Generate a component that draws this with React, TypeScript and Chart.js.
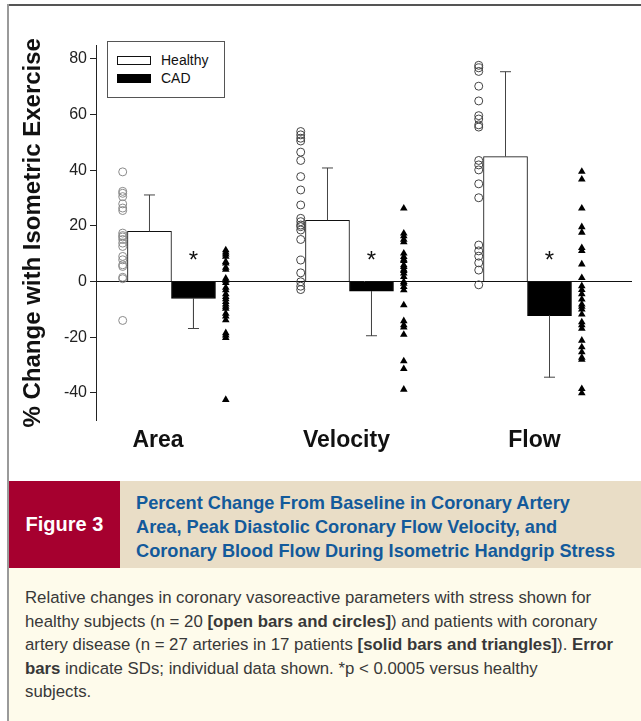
import React, { useEffect, useRef } from 'react';
import { Chart, registerables } from 'chart.js';

Chart.register(...registerables);

// ---------------- data ----------------
const CATEGORIES = ['Area', 'Velocity', 'Flow'];
const CATEGORY_LABEL_SHIFT = [-0.076, -0.017, 0.039];
const Y_TICKS = [-40, -20, 0, 20, 40, 60, 80];
const Y_MIN = -50;
const Y_MAX = 85;
const X_MIN = -0.424;
const X_MAX = 2.587;
const Y_TITLE = '% Change with Isometric Exercise';

const HEALTHY_MEAN = [18.0, 22.0, 44.9];
const HEALTHY_SD = [13.1, 18.8, 30.5];
const CAD_MEAN = [-6.1, -3.5, -12.3];
const CAD_SD = [10.8, 16.0, 22.1];

const AREA_HEALTHY = [39.4, 32.4, 31.7, 30.5, 27.9, 26.4, 25.5, 17.4, 16.5, 16.0, 15.1, 13.8, 12.6, 9.0, 7.8, 6.0, 5.4, 1.5, 1.0, -14.0];
const VELOCITY_HEALTHY = [53.9, 52.7, 51.5, 50.5, 46.5, 43.5, 37.7, 32.9, 27.5, 22.7, 21.5, 20.3, 19.7, 18.5, 15.1, 7.7, 3.1, -0.1, -1.7, -2.9];
const FLOW_HEALTHY = [77.7, 76.8, 75.5, 70.2, 64.9, 59.6, 58.4, 56.3, 55.5, 43.5, 41.9, 40.1, 35.1, 30.1, 13.1, 11.0, 9.1, 6.7, 4.1, -1.2];

const AREA_CAD = [11.3, 10.5, 9.8, 9.0, 7.1, 6.5, 5.0, 4.3, 1.1, 0.3, -0.5, -2.2, -3.1, -4.5, -5.5, -6.3, -7.3, -8.2, -9.0, -9.7, -11.5, -12.5, -13.9, -18.5, -19.3, -20.2, -42.5];
const VELOCITY_CAD = [26.3, 17.3, 16.3, 15.1, 14.2, 10.1, 8.9, 7.9, 7.4, 5.9, 5.3, 4.3, 3.8, 2.9, 1.7, -0.1, -0.7, -1.9, -3.1, -8.5, -14.2, -15.7, -16.5, -19.1, -28.6, -31.4, -38.8];
const FLOW_CAD = [39.5, 36.7, 26.3, 19.6, 17.6, 12.1, 11.0, 6.2, 1.3, -1.6, -3.0, -4.5, -6.4, -8.2, -9.0, -10.0, -11.8, -14.6, -15.7, -16.9, -21.2, -23.6, -25.4, -27.3, -28.1, -38.6, -40.1];

const HEALTHY_POINTS = [AREA_HEALTHY, VELOCITY_HEALTHY, FLOW_HEALTHY];
const CAD_POINTS = [AREA_CAD, VELOCITY_CAD, FLOW_CAD];

const SIGNIFICANT = [true, true, true];
const SIG_Y = 9.2;

// offsets within a category group (in category units)
const BAR_OFFSET = 0.1236;
const CIRCLE_OFFSET = -0.274;
const TRIANGLE_OFFSET = 0.305;

const FONT = "'Liberation Sans', Arial, Helvetica, sans-serif";

const sigPlugin = {
  id: 'sigStars',
  afterDatasetsDraw(chart: any) {
    const { ctx, scales } = chart;
    const x = scales.x;
    const y = scales.y;
    ctx.save();
    ctx.font = `24px ${FONT}`;
    ctx.fillStyle = '#111';
    ctx.textAlign = 'center';
    ctx.textBaseline = 'alphabetic';
    const m = ctx.measureText('*');
    const off = (m.actualBoundingBoxAscent - m.actualBoundingBoxDescent) / 2;
    CATEGORIES.forEach((_, i) => {
      if (!SIGNIFICANT[i]) return;
      const px = x.getPixelForValue(i + BAR_OFFSET);
      const py = y.getPixelForValue(SIG_Y);
      ctx.fillText('*', px, py + off);
    });
    ctx.restore();
  },
};

function errorData(means: number[], sds: number[], dir: number, offset: number) {
  const out: any[] = [];
  means.forEach((m, i) => {
    out.push({ x: i + offset, y: m, cap: false });
    out.push({ x: i + offset, y: m + dir * sds[i], cap: true });
    out.push({ x: i + offset, y: null, cap: false });
  });
  return out;
}

function pointData(groups: number[][], offset: number) {
  const out: any[] = [];
  groups.forEach((vals, i) => vals.forEach((v) => out.push({ x: i + offset, y: v, cat: i })));
  return out;
}

function ChartView() {
  const ref = useRef<HTMLCanvasElement | null>(null);
  useEffect(() => {
    if (!ref.current) return;
    Chart.defaults.font.family = FONT;
    const chart = new Chart(ref.current, {
      type: 'bar',
      data: {
        datasets: [
          {
            type: 'scatter',
            label: 'Healthy points',
            data: pointData(HEALTHY_POINTS, CIRCLE_OFFSET),
            pointStyle: 'circle',
            pointRadius: 4,
            pointBorderWidth: 1,
            pointBackgroundColor: 'rgba(0,0,0,0)',
            pointBorderColor: (c: any) => (c.raw && c.raw.cat === 0 ? '#8a8a8a' : '#444'),
            order: 1,
          } as any,
          {
            type: 'scatter',
            label: 'CAD points',
            data: pointData(CAD_POINTS, TRIANGLE_OFFSET),
            pointStyle: 'triangle',
            pointRadius: 4.4,
            pointBorderWidth: 0,
            pointBackgroundColor: '#000',
            pointBorderColor: '#000',
            order: 1,
          } as any,
          {
            type: 'line',
            label: 'Healthy SD',
            data: errorData(HEALTHY_MEAN, HEALTHY_SD, 1, -BAR_OFFSET),
            borderColor: '#444',
            borderWidth: 1,
            spanGaps: false,
            pointStyle: 'line',
            pointRadius: (c: any) => (c.raw && c.raw.cap ? 5.5 : 0),
            pointBorderColor: '#444',
            pointBorderWidth: 1,
            order: 2,
          } as any,
          {
            type: 'line',
            label: 'CAD SD',
            data: errorData(CAD_MEAN, CAD_SD, -1, BAR_OFFSET),
            borderColor: '#444',
            borderWidth: 1,
            spanGaps: false,
            pointStyle: 'line',
            pointRadius: (c: any) => (c.raw && c.raw.cap ? 5.5 : 0),
            pointBorderColor: '#444',
            pointBorderWidth: 1,
            order: 2,
          } as any,
          {
            type: 'bar',
            label: 'Healthy',
            data: HEALTHY_MEAN.map((v, i) => ({ x: i, y: v })),
            backgroundColor: '#fff',
            borderColor: '#111',
            borderWidth: 1,
            barThickness: 44,
            order: 3,
          } as any,
          {
            type: 'bar',
            label: 'CAD',
            data: CAD_MEAN.map((v, i) => ({ x: i, y: v })),
            backgroundColor: '#000',
            borderColor: '#000',
            borderWidth: 1,
            barThickness: 44,
            order: 3,
          } as any,
        ],
      },
      options: {
        animation: false,
        responsive: false,
        events: [],
        layout: { padding: { left: 0, right: 9, top: 39, bottom: 0 } },
        plugins: { legend: { display: false }, tooltip: { enabled: false } },
        scales: {
          x: {
            type: 'linear',
            min: X_MIN,
            max: X_MAX,
            offset: false,
            grid: { display: false, drawTicks: false },
            border: { display: false },
            afterBuildTicks: (s: any) => {
              s.ticks = CATEGORIES.map((_, i) => ({ value: i + CATEGORY_LABEL_SHIFT[i], idx: i }));
            },
            afterFit: (s: any) => {
              s.height = 59.4;
            },
            ticks: {
              autoSkip: false,
              maxRotation: 0,
              padding: 6,
              color: '#111',
              font: { size: 23, weight: 'bold' },
              callback: (_v: any, index: number) => CATEGORIES[index] ?? '',
            },
          },
          y: {
            type: 'linear',
            min: Y_MIN,
            max: Y_MAX,
            afterBuildTicks: (s: any) => {
              s.ticks = Y_TICKS.map((v) => ({ value: v }));
            },
            afterFit: (s: any) => {
              s.width = 87;
            },
            grid: {
              display: true,
              drawOnChartArea: true,
              drawTicks: true,
              tickLength: 6,
              tickColor: '#222',
              tickWidth: 1,
              color: (c: any) => (c.tick && c.tick.value === 0 ? '#111' : 'rgba(0,0,0,0)'),
              lineWidth: 1,
            },
            border: { display: true, color: '#222', width: 1 },
            ticks: {
              padding: 3,
              color: '#222',
              font: { size: 16 },
              callback: (v: any) => String(v),
            },
            title: {
              display: true,
              text: Y_TITLE,
              color: '#111',
              font: { size: 24, weight: 'bold' },
              padding: { top: 10, bottom: 0 },
            },
          },
        },
      },
      plugins: [sigPlugin],
    } as any);
    return () => chart.destroy();
  }, []);
  return (
    <canvas
      ref={ref}
      width={632}
      height={474}
      style={{ position: 'absolute', left: 9, top: 6, width: 632, height: 474 }}
    />
  );
}

export default function App() {
  const bodyLine: React.CSSProperties = { whiteSpace: 'nowrap' };
  return (
    <div
      style={{
        position: 'absolute',
        left: 0,
        top: 0,
        width: 641,
        height: 721,
        background: '#fff',
        overflow: 'hidden',
        fontFamily: FONT,
      }}
    >
      <div style={{ position: 'absolute', left: 8, top: 4, right: 0, height: 2, background: '#555' }} />
      <div style={{ position: 'absolute', left: 7, top: 4, width: 2, bottom: 0, background: '#9a9a9a' }} />
      <ChartView />
      {/* legend */}
      <div
        style={{
          position: 'absolute',
          left: 107,
          top: 41,
          width: 116,
          height: 55,
          border: '1px solid #555',
          background: '#fff',
        }}
      >
        <div style={{ position: 'absolute', left: 9, top: 14, width: 32, height: 7, border: '1px solid #111', background: '#fff' }} />
        <div style={{ position: 'absolute', left: 9, top: 32, width: 34, height: 9, background: '#000' }} />
        <div style={{ position: 'absolute', left: 53, top: 10, fontSize: 14, lineHeight: '17px', color: '#111' }}>Healthy</div>
        <div style={{ position: 'absolute', left: 53, top: 28, fontSize: 14, lineHeight: '17px', color: '#111' }}>CAD</div>
      </div>
      {/* caption header */}
      <div style={{ position: 'absolute', left: 9, top: 481, width: 632, height: 87, background: '#e9ddc6' }}>
        <div
          style={{
            position: 'absolute',
            left: 0,
            top: 0,
            width: 111,
            height: 87,
            background: '#a6002f',
            color: '#fff',
            fontWeight: 'bold',
            fontSize: 20,
            display: 'flex',
            alignItems: 'center',
            justifyContent: 'center',
          }}
        >
          Figure 3
        </div>
        <div
          style={{
            position: 'absolute',
            left: 127,
            top: 10,
            color: '#135a9b',
            fontWeight: 'bold',
            fontSize: 18.2,
            lineHeight: '24px',
            whiteSpace: 'nowrap',
          }}
        >
          <div>Percent Change From Baseline in Coronary Artery</div>
          <div>Area, Peak Diastolic Coronary Flow Velocity, and</div>
          <div>Coronary Blood Flow During Isometric Handgrip Stress</div>
        </div>
      </div>
      {/* caption body */}
      <div
        style={{
          position: 'absolute',
          left: 9,
          top: 568,
          width: 632,
          bottom: 0,
          background: '#fefbeb',
          color: '#383838',
          fontSize: 16.8,
          lineHeight: '23.5px',
          paddingLeft: 16,
          paddingTop: 18,
          boxSizing: 'border-box',
        }}
      >
        <div style={bodyLine}>Relative changes in coronary vasoreactive parameters with stress shown for</div>
        <div style={bodyLine}>
          healthy subjects (n = 20 <b>[open bars and circles]</b>) and patients with coronary
        </div>
        <div style={bodyLine}>
          artery disease (n = 27 arteries in 17 patients <b>[solid bars and triangles]</b>). <b>Error</b>
        </div>
        <div style={bodyLine}>
          <b>bars</b> indicate SDs; individual data shown. *p &lt; 0.0005 versus healthy
        </div>
        <div style={bodyLine}>subjects.</div>
      </div>
    </div>
  );
}
